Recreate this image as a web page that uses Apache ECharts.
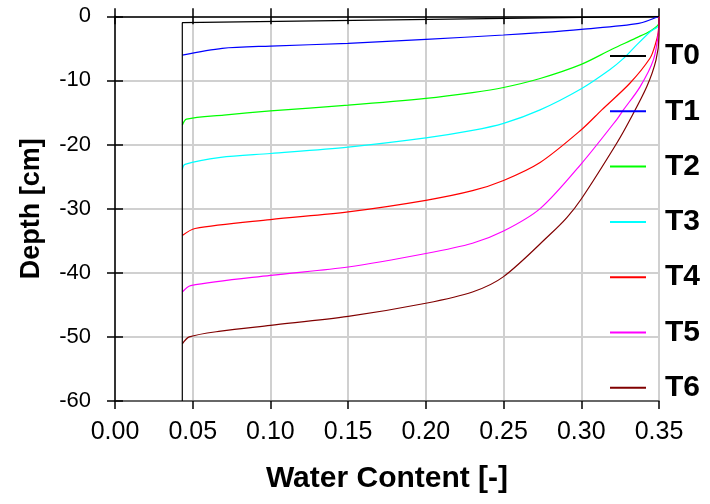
<!DOCTYPE html>
<html>
<head>
<meta charset="utf-8">
<script src="https://cdn.jsdelivr.net/npm/echarts@6/dist/echarts.min.js"></script>
<style>
html,body{margin:0;padding:0;background:#fff;}
#chart{width:710px;height:504px;}
</style>
</head>
<body>
<div id="chart"></div>
<script>
var seriesNames = ['T0','T1','T2','T3','T4','T5','T6'];
var seriesColors = ['#000000','#0000ff','#00ff00','#00ffff','#ff0000','#ff00ff','#800000'];
var xTicks = [0.00,0.05,0.10,0.15,0.20,0.25,0.30,0.35];
var yTicks = [0,-10,-20,-30,-40,-50,-60];

var T0 = [[0.0433,-60],[0.0433,-1.0],[0.35,0]];
var T1 = [[0.0433,-6.05],[0.069,-5.0],[0.10,-4.64],[0.15,-4.22],[0.20,-3.6],[0.25,-2.92],[0.2735,-2.55],[0.30,-2.03],[0.337,-1.1],[0.35,0]];
var T2 = [[0.0433,-17.0],[0.046,-16.05],[0.07,-15.4],[0.10,-14.75],[0.15,-13.86],[0.20,-12.8],[0.23,-11.9],[0.25,-11.1],[0.2735,-9.7],[0.30,-7.5],[0.32,-5.1],[0.335,-3.4],[0.345,-2.2],[0.35,-1.0],[0.35,0]];
var T3 = [[0.0433,-23.9],[0.045,-23.1],[0.068,-22.0],[0.10,-21.4],[0.15,-20.4],[0.20,-18.97],[0.23,-17.8],[0.25,-16.7],[0.2735,-14.6],[0.30,-11.3],[0.3185,-8.3],[0.327,-6.6],[0.3335,-5.0],[0.3443,-2.4],[0.35,-1.3],[0.35,0]];
var T4 = [[0.0433,-34.2],[0.0515,-33.1],[0.10,-31.7],[0.15,-30.5],[0.20,-28.7],[0.23,-27.2],[0.25,-25.6],[0.2735,-22.8],[0.30,-17.7],[0.3132,-14.6],[0.3314,-10.4],[0.3443,-6.5],[0.3475,-4.5],[0.3495,-2.5],[0.35,0]];
var T5 = [[0.0433,-43.0],[0.0487,-42.0],[0.10,-40.4],[0.15,-39.1],[0.20,-37.0],[0.23,-35.4],[0.25,-33.5],[0.2735,-30.0],[0.30,-23.0],[0.3228,-16.1],[0.3271,-14.6],[0.3378,-11.0],[0.3464,-6.8],[0.3496,-2.6],[0.35,0]];
var T6 = [[0.0433,-51.1],[0.0478,-50.0],[0.068,-49.1],[0.10,-48.2],[0.15,-46.8],[0.20,-44.75],[0.23,-43.0],[0.25,-40.6],[0.28,-34.0],[0.2907,-31.4],[0.30,-28.5],[0.3228,-19.8],[0.3314,-16.1],[0.3421,-11.0],[0.3481,-6.8],[0.35,-3.0],[0.35,0]];
var seriesData = [T0,T1,T2,T3,T4,T5,T6];

var FONT = 'Liberation Sans, Arial, sans-serif';
var chart = echarts.init(document.getElementById('chart'), null, {renderer:'canvas'});

function xAx(pos, inside, show, extra){
  var a = {
    type:'value', min:0, max:0.35, interval:0.05, position:pos,
    axisLine:{show:true, onZero:false, lineStyle:{color: pos==='top' ? '#000' : '#444', width:1.5}},
    axisTick:{show:true, inside:inside, length:8, lineStyle:{color:'#000', width:1.5}},
    axisLabel:{show:show, color:'#000', fontSize:25, fontFamily:FONT, margin:19,
      formatter:function(v){ return v.toFixed(2); }},
    splitLine:{show:false}
  };
  for (var k in extra) a[k]=extra[k];
  return a;
}
function yAx(inside, show, extra){
  var a = {
    type:'value', min:-60, max:0, interval:10, position:'left',
    axisLine:{show:true, onZero:false, lineStyle:{color:'#000', width:1.5}},
    axisTick:{show:true, inside:inside, length:8, lineStyle:{color:'#000', width:1.5}},
    axisLabel:{show:show, color:'#000', fontSize:22, fontFamily:FONT, margin:24},
    splitLine:{show:false}
  };
  for (var k in extra) a[k]=extra[k];
  return a;
}

var series = [];
for (var i=0;i<seriesNames.length;i++){
  series.push({
    name: seriesNames[i], type:'line', data: seriesData[i],
    xAxisIndex:0, yAxisIndex:0, symbol:'none',
    smooth: i===0 ? false : 0.3,
    z: i===0 ? 10 : 3,
    lineStyle:{color:seriesColors[i], width:1.2},
    itemStyle:{color:seriesColors[i]},
    animation:false
  });
}

chart.setOption({
  backgroundColor:'#fff',
  animation:false,
  grid:{left:115, right:51, top:16.3, bottom:103, containLabel:false},
  legend:{
    orient:'vertical', left:605, top:36,
    itemWidth:36, itemHeight:14, itemGap:25.3,
    data: seriesNames.map(function(n,i){ return {name:n, icon:'path://M0,0L36,0L36,2L0,2Z', itemStyle:{color:seriesColors[i]}}; }),
    textStyle:{fontSize:30, fontWeight:'bold', color:'#000', fontFamily:FONT, padding:[0,0,0,14], lineHeight:30},
    selectedMode:false
  },
  xAxis:[
    xAx('bottom', false, true, {
      name:'Water Content [-]', nameLocation:'middle', nameGap:63,
      nameTextStyle:{fontSize:30, fontWeight:'bold', color:'#000', fontFamily:FONT},
      splitLine:{show:true, lineStyle:{color:'#d0d0d0', width:2}}
    }),
    xAx('bottom', true, false, {axisLine:{show:false}}),
    xAx('top', true, false, {}),
    xAx('top', false, false, {axisLine:{show:false}})
  ],
  yAxis:[
    yAx(false, true, {
      name:'Depth [cm]', nameLocation:'middle', nameGap:70,
      nameTextStyle:{fontSize:27, fontWeight:'bold', color:'#000', fontFamily:FONT},
      splitLine:{show:true, lineStyle:{color:'#d0d0d0', width:2}}
    }),
    yAx(true, false, {axisLine:{show:false}})
  ],
  series: series
});
</script>
</body>
</html>
